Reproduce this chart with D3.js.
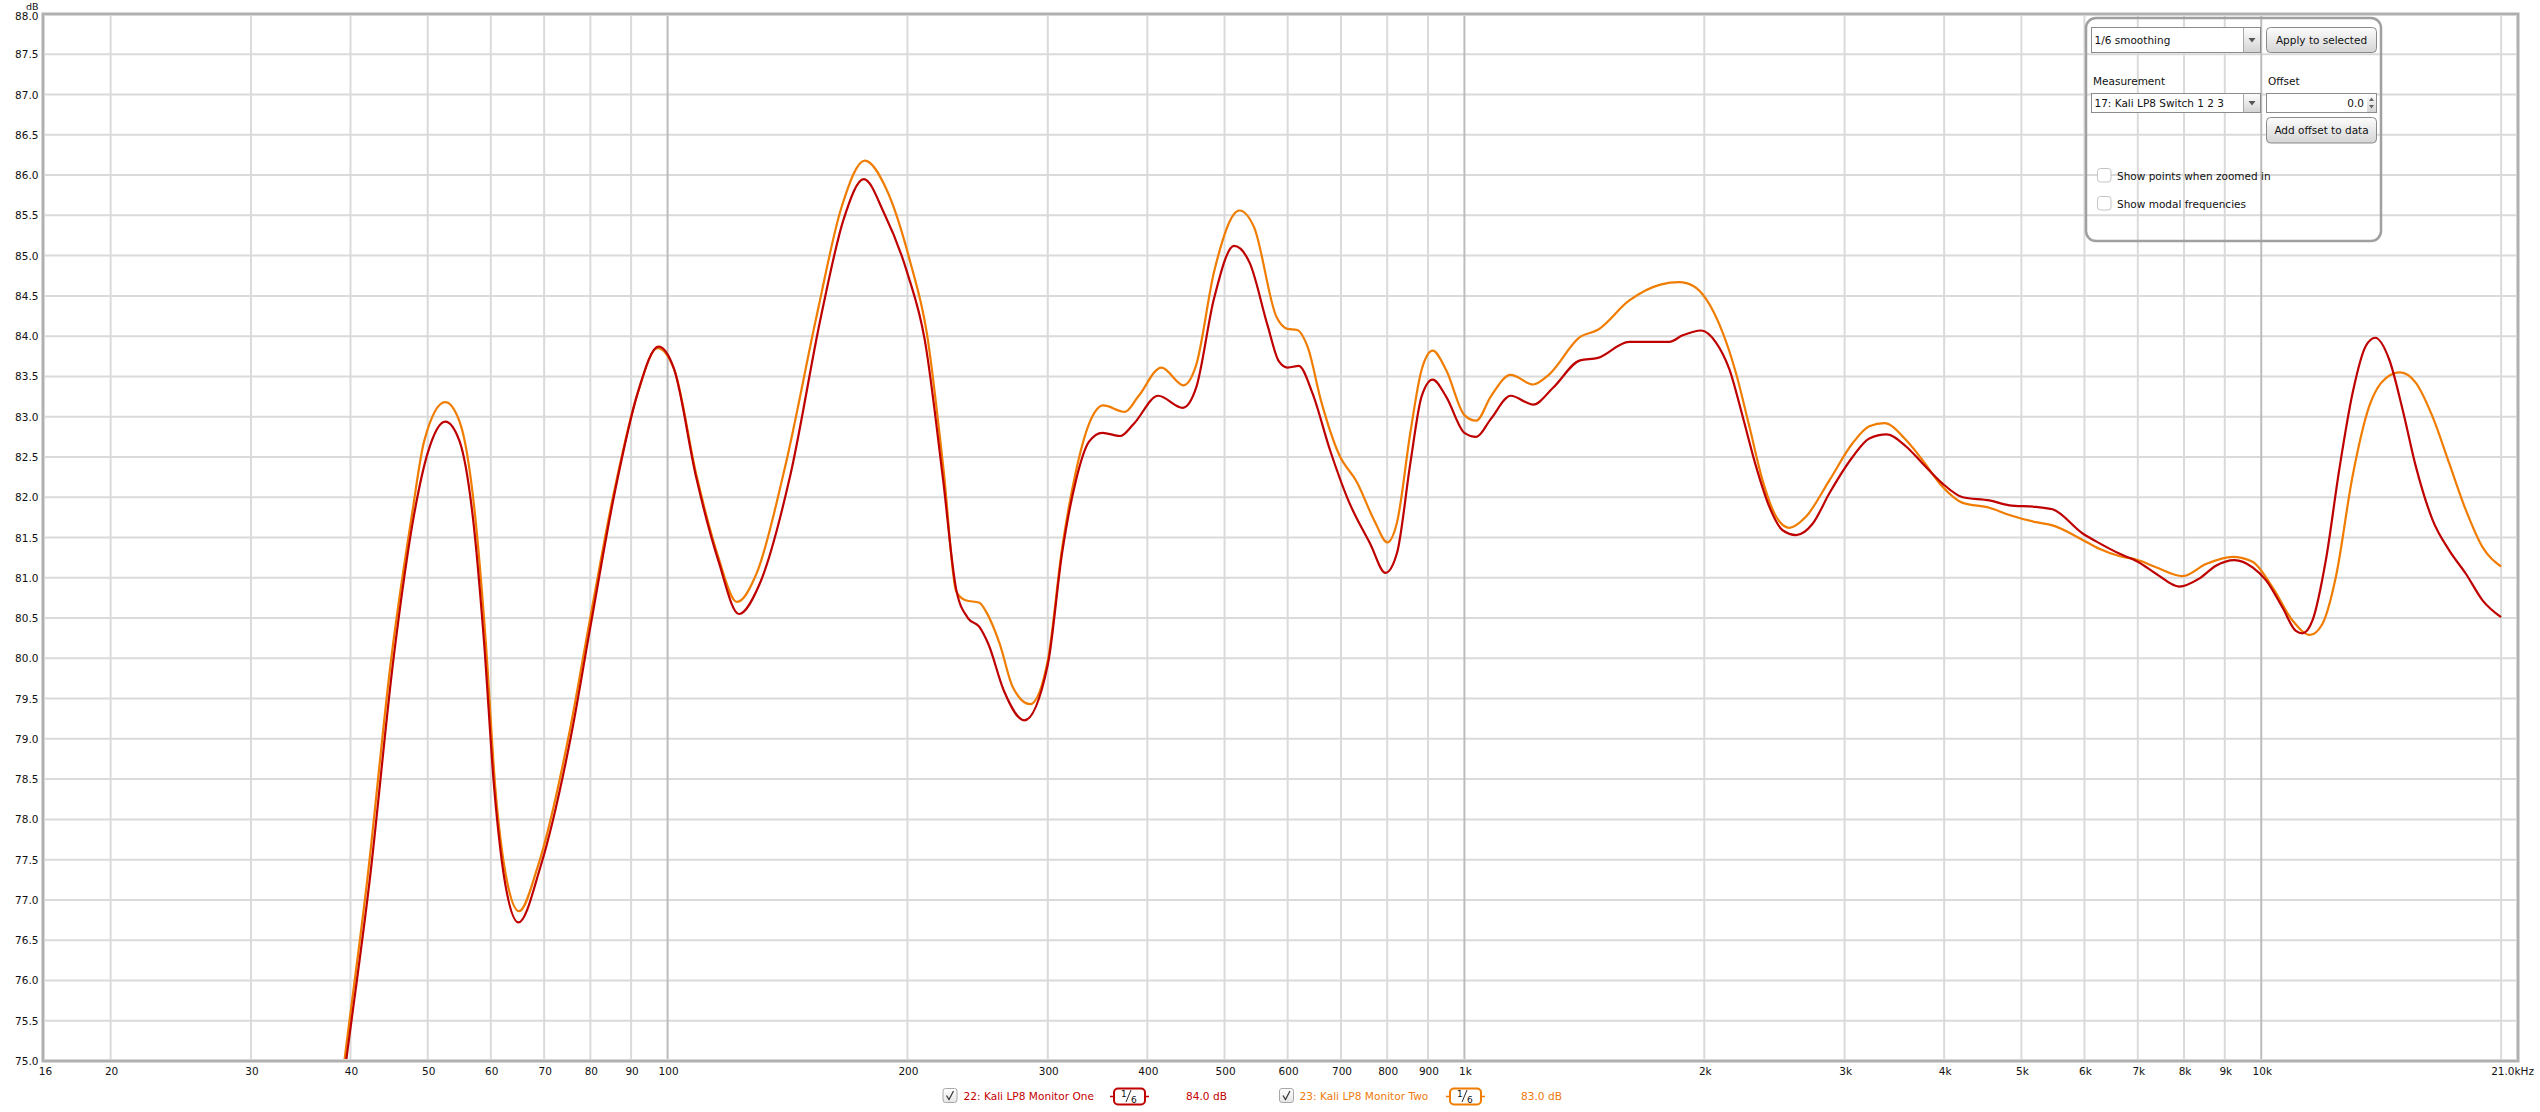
<!DOCTYPE html>
<html><head><meta charset="utf-8">
<script src="https://cdn.jsdelivr.net/npm/d3@7"></script>
<style>
html,body{margin:0;padding:0;background:#fff;}
svg{display:block;font-family:"DejaVu Sans",sans-serif;}
</style></head><body>
<svg id="chart" width="2540" height="1112"></svg>
<script>
// ---------------- DATA ----------------
const redFreq = [38.5,39.5,42.3,45.3,48.1,50.0,52.6,54.8,57.0,58.8,60.6,62.6,65.0,69.2,75.7,80.0,86.0,91.7,97.4,101.9,108.6,115.9,122.9,130.3,142.4,155.9,166.3,176.3,186.9,200,210.2,221.5,230.3,238.2,246.2,252.6,264.2,280.3,300,312.7,325.1,338,351.3,369.8,384.5,412.8,443.1,460.6,485.1,514,537.7,566.3,584.8,600,619.7,644.2,678.4,714.3,761.9,796,823.1,855.3,883.5,912.4,948.5,1000,1035,1079,1143,1220,1292,1397,1471,1609,1808,1879,1982,2069,2150,2235,2323,2414,2508,2608,2735,2871,3070,3222,3388,3583,3758,3981,4220,4558,4829,5216,5472,5969,6262,6634,7000,7378,7891,8359,8772,9250,9752,10136,10634,11052,11267,11596,12053,12527,13019,13532,13900,14474,15044,15634,16405,17216,18064,18955,20000];
const redDb = [74.15,75.0,77.26,80.0,81.8,82.55,82.94,82.7,81.73,80.24,78.38,77.18,76.72,77.4,79.05,80.39,82.1,83.29,83.87,83.59,82.25,81.2,80.55,80.91,82.25,84.26,85.45,85.95,85.53,84.78,83.96,82.25,80.85,80.5,80.39,80.18,79.6,79.23,79.92,81.31,82.19,82.69,82.8,82.76,82.91,83.26,83.11,83.36,84.47,85.12,84.91,84.13,83.69,83.61,83.63,83.3,82.58,81.97,81.42,81.06,81.31,82.42,83.25,83.46,83.25,82.8,82.75,82.97,83.26,83.15,83.36,83.7,83.73,83.93,83.93,84.01,84.07,83.92,83.59,83.0,82.38,81.88,81.59,81.53,81.67,82.05,82.5,82.73,82.78,82.63,82.42,82.17,82.0,81.96,81.9,81.88,81.85,81.55,81.43,81.3,81.2,81.05,80.89,80.99,81.15,81.22,81.13,80.97,80.63,80.34,80.31,80.47,81.22,82.34,83.29,83.88,83.98,83.71,83.09,82.38,81.72,81.34,81.05,80.72,80.51];

const orangeFreq = [38.3,39.3,42.0,45.0,47.8,49.5,52.6,54.9,57.3,59.1,60.8,62.8,65.1,68.7,75.2,79.6,85.8,91.7,97.1,101.9,108.6,115.6,122.2,129.4,140.6,153.9,165.3,176.8,188.1,201.5,211.5,222.1,230.3,236.6,246.2,251.3,261.1,271.2,285.1,300,312.7,325.1,338,352.2,374.8,389.6,416.6,444.2,460.6,485.1,521.9,544.6,580.9,600,615.7,636,661.1,696.1,732.8,771.7,800.2,823.1,855.3,883.5,912.4,948.5,1000,1035,1079,1143,1220,1276,1397,1471,1609,1762,1860,1940,2011,2110,2192,2278,2367,2461,2557,2684,2871,3070,3222,3365,3583,3758,3981,4220,4558,4829,5216,5472,5969,6262,6634,7000,7378,7967,8523,9204,9752,10332,10946,11511,11937,12406,13019,13662,14338,14944,15634,16405,17216,18064,18955,20000];
const orangeDb = [74.1,75.0,77.26,80.0,81.8,82.7,83.18,82.92,81.8,80.24,78.38,77.26,76.86,77.41,79.05,80.39,82.1,83.29,83.85,83.59,82.29,81.28,80.7,81.06,82.4,84.26,85.6,86.18,85.83,84.93,84.04,82.32,80.83,80.72,80.69,80.57,80.18,79.64,79.43,79.97,81.37,82.3,82.91,83.14,83.06,83.25,83.61,83.39,83.64,84.8,85.56,85.35,84.24,84.09,84.08,83.86,83.19,82.53,82.19,81.7,81.44,81.69,82.8,83.58,83.82,83.58,83.02,82.95,83.25,83.52,83.4,83.52,83.99,84.08,84.44,84.64,84.67,84.62,84.46,84.04,83.54,82.88,82.21,81.76,81.62,81.76,82.21,82.67,82.88,82.92,82.71,82.46,82.13,81.93,81.87,81.78,81.69,81.65,81.47,81.36,81.27,81.22,81.13,81.02,81.17,81.26,81.2,80.88,80.47,80.29,80.43,81.01,82.26,83.13,83.48,83.55,83.42,83.0,82.42,81.84,81.38,81.14];

const yTickValues = [75,75.5,76,76.5,77,77.5,78,78.5,79,79.5,80,80.5,81,81.5,82,82.5,83,83.5,84,84.5,85,85.5,86,86.5,87,87.5,88];
const xGridFreqs = [20,30,40,50,60,70,80,90,100,200,300,400,500,600,700,800,900,1000,2000,3000,4000,5000,6000,7000,8000,9000,10000,20000];
const xMajorFreqs = [100,1000,10000];
const xTickFreqs = [20,30,40,50,60,70,80,90,100,200,300,400,500,600,700,800,900,1000,2000,3000,4000,5000,6000,7000,8000,9000,10000];
const xTickLabels = ["20","30","40","50","60","70","80","90","100","200","300","400","500","600","700","800","900","1k","2k","3k","4k","5k","6k","7k","8k","9k","10k"];
const xDomain = [16.45, 21000];
const xEndLabels = ["16","21.0kHz"];
const yDomain = [75, 88];

const seriesNames = ["22: Kali LP8 Monitor One","23: Kali LP8 Monitor Two"];
const seriesLevels = ["84.0 dB","83.0 dB"];
const seriesColors = ["#bf0000","#f07c00"];
const legendColors = ["#c40000","#ee7a0c"];

// ---------------- CHART ----------------
const svg = d3.select("#chart");
const L=43, R=2518, T=14, B=1061;
const x = d3.scaleLog().domain(xDomain).range([L,R]);
const y = d3.scaleLinear().domain(yDomain).range([B,T]);

const defs = svg.append("defs");
defs.append("clipPath").attr("id","plotclip").append("rect")
  .attr("x",L).attr("y",T).attr("width",R-L).attr("height",B-T);
const g1 = defs.append("linearGradient").attr("id","btn").attr("x1",0).attr("y1",0).attr("x2",0).attr("y2",1);
g1.append("stop").attr("offset","0%").attr("stop-color","#fdfdfd");
g1.append("stop").attr("offset","100%").attr("stop-color","#d4d4d4");
const g2 = defs.append("linearGradient").attr("id","cb").attr("x1",0).attr("y1",0).attr("x2",0).attr("y2",1);
g2.append("stop").attr("offset","0%").attr("stop-color","#ffffff");
g2.append("stop").attr("offset","100%").attr("stop-color","#e6e6e6");

// grid
const grid = svg.append("g");
grid.selectAll("line.h").data(yTickValues.filter(v=>v>yDomain[0]&&v<yDomain[1])).enter().append("line")
  .attr("x1",L).attr("x2",R).attr("y1",d=>y(d)).attr("y2",d=>y(d))
  .attr("stroke","#dadada").attr("stroke-width",2);
grid.selectAll("line.v").data(xGridFreqs).enter().append("line")
  .attr("x1",d=>x(d)).attr("x2",d=>x(d)).attr("y1",T).attr("y2",B)
  .attr("stroke",d=>xMajorFreqs.includes(d)?"#bcbcbc":"#dadada").attr("stroke-width",2);

// curves
const line = d3.line().x(d=>x(d[0])).y(d=>y(d[1])).curve(d3.curveMonotoneX);
const series = [
  d3.zip(redFreq, redDb),
  d3.zip(orangeFreq, orangeDb)
];
const plot = svg.append("g").attr("clip-path","url(#plotclip)");
// draw orange first, red on top
[1,0].forEach(i=>{
  plot.append("path").datum(series[i]).attr("d",line)
    .attr("fill","none").attr("stroke",seriesColors[i]).attr("stroke-width",2.2)
    .attr("stroke-linejoin","round");
});

// frame
svg.append("rect").attr("x",L).attr("y",T).attr("width",R-L).attr("height",B-T)
  .attr("fill","none").attr("stroke","#b0b0b0").attr("stroke-width",3);
svg.append("rect").attr("x",L+1.5).attr("y",T+1.5).attr("width",R-L-3).attr("height",B-T-3)
  .attr("fill","none").attr("stroke","#d6d6d6").attr("stroke-width",1);

// y labels
const fs = "10.5px";
svg.append("g").selectAll("text").data(yTickValues).enter().append("text")
  .attr("x",38.5).attr("y",d=>d===88?y(d)+6:y(d)+4)
  .attr("text-anchor","end").attr("font-size",fs).attr("fill","#111")
  .text(d=>d.toFixed(1));
svg.append("text").attr("x",38.5).attr("y",9.5).attr("text-anchor","end")
  .attr("font-size","9.5px").attr("fill","#111").text("dB");

// x labels
const xa = svg.append("g");
xa.selectAll("text").data(xTickFreqs).enter().append("text")
  .attr("x",d=>x(d)+1).attr("y",1075).attr("text-anchor","middle")
  .attr("font-size",fs).attr("fill","#111")
  .text((d,i)=>xTickLabels[i]);
xa.append("text").attr("x",x(xDomain[0])+2.5).attr("y",1075).attr("text-anchor","middle")
  .attr("font-size",fs).attr("fill","#111").text(xEndLabels[0]);
xa.append("text").attr("x",2534).attr("y",1075).attr("text-anchor","end")
  .attr("font-size",fs).attr("fill","#111").text(xEndLabels[1]);

// legend
const legendX = [[943,963.5,1114,1186],[1279.5,1299.5,1450,1521]];
const lg = svg.append("g");
legendX.forEach((p,i)=>{
  const [cbx, tx, bx, lx] = p;
  lg.append("rect").attr("x",cbx).attr("y",1088.5).attr("width",14).attr("height",14).attr("rx",2.5)
    .attr("fill","url(#cb)").attr("stroke","#a8a8a8").attr("stroke-width",1);
  lg.append("path").attr("d",`M${cbx+3.5},${1095.5} L${cbx+6},${1099.5} L${cbx+10.5},${1091}`)
    .attr("fill","none").attr("stroke","#333").attr("stroke-width",1.2);
  lg.append("text").attr("x",tx).attr("y",1100).attr("font-size","10.6px")
    .attr("fill",legendColors[i]).text(seriesNames[i]);
  // smoothing box
  lg.append("line").attr("x1",bx-4).attr("x2",bx+35).attr("y1",1096.5).attr("y2",1096.5)
    .attr("stroke",seriesColors[i]).attr("stroke-width",1.5);
  lg.append("rect").attr("x",bx).attr("y",1088.5).attr("width",31).attr("height",16).attr("rx",4)
    .attr("fill","#fff").attr("stroke",seriesColors[i]).attr("stroke-width",2);
  lg.append("text").attr("x",bx+7).attr("y",1097).attr("font-size","9px").attr("fill","#111").text("1");
  lg.append("line").attr("x1",bx+12).attr("x2",bx+17).attr("y1",1102).attr("y2",1090)
    .attr("stroke","#111").attr("stroke-width",0.9);
  lg.append("text").attr("x",bx+17).attr("y",1102.5).attr("font-size","9px").attr("fill","#111").text("6");
  lg.append("text").attr("x",lx).attr("y",1100).attr("font-size","10.6px")
    .attr("fill",legendColors[i]).text(seriesLevels[i]);
});

// ---------------- control panel ----------------
const pn = svg.append("g");
pn.append("rect").attr("x",2086).attr("y",18).attr("width",295).attr("height",223).attr("rx",10)
  .attr("fill","none").attr("stroke","#a0a0a0").attr("stroke-width",2.5);
function dropdown(xp, yp, w, h, label){
  pn.append("rect").attr("x",xp).attr("y",yp).attr("width",w).attr("height",h)
    .attr("fill","#fff").attr("stroke","#8c8c8c").attr("stroke-width",1);
  pn.append("rect").attr("x",xp+w-17).attr("y",yp+0.5).attr("width",16.5).attr("height",h-1)
    .attr("fill","url(#btn)");
  pn.append("line").attr("x1",xp+w-17).attr("x2",xp+w-17).attr("y1",yp).attr("y2",yp+h)
    .attr("stroke","#a8a8a8");
  const cx = xp+w-8.5, cy = yp+h/2;
  pn.append("path").attr("d",`M${cx-3.5},${cy-2} L${cx+3.5},${cy-2} L${cx},${cy+2.5} Z`).attr("fill","#555");
  pn.append("text").attr("x",xp+3).attr("y",yp+h/2+4).attr("font-size",fs).attr("fill","#111").text(label);
}
function button(xp, yp, w, h, label){
  pn.append("rect").attr("x",xp).attr("y",yp).attr("width",w).attr("height",h).attr("rx",4)
    .attr("fill","url(#btn)").attr("stroke","#8a8a8a").attr("stroke-width",1);
  pn.append("text").attr("x",xp+w/2).attr("y",yp+h/2+4).attr("text-anchor","middle")
    .attr("font-size",fs).attr("fill","#111").text(label);
}
dropdown(2091.5, 27.5, 169, 25, "1/6 smoothing");
button(2266.5, 27.5, 110, 25, "Apply to selected");
pn.append("text").attr("x",2093).attr("y",84.5).attr("font-size",fs).attr("fill","#111").text("Measurement");
pn.append("text").attr("x",2268).attr("y",84.5).attr("font-size",fs).attr("fill","#111").text("Offset");
dropdown(2091.5, 93.5, 169, 19, "17: Kali LP8 Switch 1 2 3");
pn.append("rect").attr("x",2266.5).attr("y",93.5).attr("width",110).attr("height",19)
  .attr("fill","#fff").attr("stroke","#8c8c8c");
pn.append("rect").attr("x",2367).attr("y",94).attr("width",9).attr("height",18).attr("fill","url(#btn)");
pn.append("path").attr("d","M2369,101 L2374,101 L2371.5,97.5 Z").attr("fill","#666");
pn.append("path").attr("d","M2369,105 L2374,105 L2371.5,108.5 Z").attr("fill","#666");
pn.append("text").attr("x",2364).attr("y",107).attr("text-anchor","end").attr("font-size",fs).attr("fill","#111").text("0.0");
button(2266.5, 117.5, 110, 25.5, "Add offset to data");
[[168.5,"Show points when zoomed in"],[196.5,"Show modal frequencies"]].forEach(c=>{
  pn.append("rect").attr("x",2097.5).attr("y",c[0]).attr("width",13.5).attr("height",13.5).attr("rx",3)
    .attr("fill","#fff").attr("stroke","#c4c4c4");
  pn.append("text").attr("x",2117).attr("y",c[0]+11).attr("font-size",fs).attr("fill","#111").text(c[1]);
});
</script>
</body></html>
